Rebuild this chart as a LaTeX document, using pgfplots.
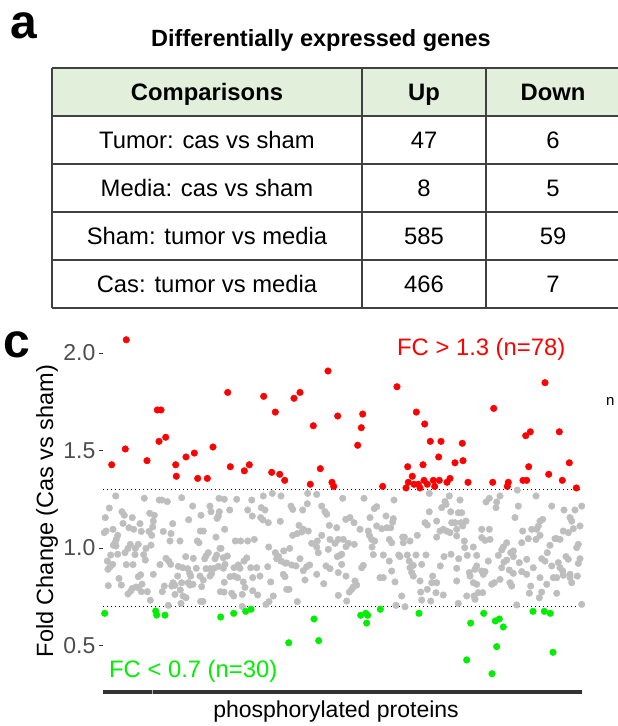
\documentclass[border=0pt]{standalone}
\usepackage{fontspec}
\setmainfont{Liberation Sans}
\usepackage{pgfplots}
\pgfplotsset{compat=1.18}
\definecolor{hdrgreen}{HTML}{E2EFDA}
\definecolor{rulegray}{HTML}{404040}
\definecolor{ptgray}{HTML}{BEBEBE}
\definecolor{fcred}{HTML}{FF0000}
\definecolor{fcgreen}{HTML}{00EE00}
\definecolor{ticktext}{HTML}{4D4D4D}
\definecolor{tickline}{HTML}{333333}

\begin{document}
\begin{tikzpicture}
\path[use as bounding box] (0pt,0pt) rectangle (618pt,-726pt);

% ---- panel a: table ----
\node[anchor=base west, inner sep=0pt, font=\fontsize{48}{50}\selectfont\bfseries] at (10pt,-38pt) {a};
\node[anchor=base, inner sep=0pt, font=\fontsize{23.5}{26}\selectfont\bfseries] at (321pt,-46pt) {Differentially expressed genes};

\fill[hdrgreen] (52pt,-68pt) rectangle (620pt,-116pt);
\begin{scope}[rulegray, line width=1.1pt]
  \draw (52pt,-68pt) -- (620pt,-68pt);
  \foreach \yy in {116,164,212,260,308} \draw (52pt,-\yy pt) -- (620pt,-\yy pt);
  \draw (52pt,-68pt) -- (52pt,-308pt);
  \draw (362pt,-68pt) -- (362pt,-308pt);
  \draw (486pt,-68pt) -- (486pt,-308pt);
\end{scope}
\begin{scope}[every node/.style={anchor=base, inner sep=0pt, font=\fontsize{23.8}{26}\selectfont}]
  \node[font=\fontsize{23.8}{26}\selectfont\bfseries] at (207pt,-100.5pt) {Comparisons};
  \node[font=\fontsize{23.8}{26}\selectfont\bfseries] at (424pt,-100.5pt) {Up};
  \node[font=\fontsize{23.8}{26}\selectfont\bfseries] at (553pt,-100.5pt) {Down};
  \node at (207pt,-148.5pt) {Tumor: cas vs sham};
  \node at (424pt,-148.5pt) {47};
  \node at (553pt,-148.5pt) {6};
  \node at (207pt,-196.5pt) {Media: cas vs sham};
  \node at (424pt,-196.5pt) {8};
  \node at (553pt,-196.5pt) {5};
  \node at (207pt,-244.5pt) {Sham: tumor vs media};
  \node at (424pt,-244.5pt) {585};
  \node at (553pt,-244.5pt) {59};
  \node at (207pt,-292.5pt) {Cas: tumor vs media};
  \node at (424pt,-292.5pt) {466};
  \node at (553pt,-292.5pt) {7};
\end{scope}

% ---- panel c: scatter ----
\node[anchor=base west, inner sep=0pt, font=\fontsize{48}{50}\selectfont\bfseries] at (3pt,-357pt) {c};

\begin{axis}[
  at={(103pt,-692pt)}, anchor=south west,
  scale only axis, width=479pt, height=369pt,
  xmin=103, xmax=582, ymin=0.2615, ymax=2.154,
  clip=false,
  axis lines=left,
  x axis line style={-, line width=4pt, color=tickline},
  y axis line style={draw=none},
  xtick=\empty,
  ytick={0.5,1.0,1.5,2.0},
  tick align=outside,
  major tick length=4.5pt,
  y tick style={color=tickline, line width=0.9pt},
  /pgf/number format/assume math mode=true,
  /pgf/number format/.cd, fixed, fixed zerofill, precision=1,
  /pgfplots/.cd,
  yticklabel style={font=\fontsize{23}{25}\selectfont, color=ticktext, inner sep=1pt, xshift=-2pt},
]
% thresholds
\addplot[black, line width=1.1pt, dash pattern=on 1.1pt off 2.9pt] coordinates {(103,1.3) (582,1.3)};
\addplot[black, line width=1.1pt, dash pattern=on 1.1pt off 2.9pt] coordinates {(103,0.7) (582,0.7)};

% unchanged proteins
\addplot[only marks, mark=*, mark size=3.3pt, color=ptgray] coordinates {
(115.7,1.267) (144.3,1.255) (159.3,1.246) (162,1.246) (167.3,1.238) (181.7,1.258) (219,1.255)
(109.3,1.205) (122,1.186) (124.3,1.168) (132.3,1.156) (149.7,1.178) (154.3,1.168) (192.7,1.215)
(210,1.215) (211,1.186) (219.3,1.186) (217,1.152) (218.3,1.164) (105.3,1.156) (140,1.125)
(153.3,1.138) (188.7,1.145) (201,1.168) (123,1.126) (129,1.104) (133.7,1.096) (141.3,1.085)
(149,1.085) (152.7,1.108) (172.7,1.125) (104.3,1.079) (106,1.087) (113,1.096) (163.3,1.085)
(171,1.074) (151.7,1.065) (200.3,1.087) (203.3,1.087) (216,1.056) (220,0.998) (117.7,1.065)
(116.3,1.044) (115,1.027) (113.3,1.014) (116,1.010) (170,1.036) (180,1.036) (197.3,1.036)
(199,1.027) (130.3,1.019) (138.3,1.019) (146,0.998) (151,1.015) (135.3,0.998) (128,0.998)
(110.7,0.964) (117.7,0.968) (125,0.976) (135,0.966) (143.7,0.966) (208.3,0.976) (206,0.959)
(204.7,0.945) (216.7,0.964) (215,0.945) (185.7,0.956) (193.3,0.947) (166,0.947) (168.7,0.933)
(170.7,0.916) (107.3,0.933) (112.7,0.916) (110,0.903) (108,0.891) (126.3,0.915) (133,0.915)
(145.3,0.938) (160,0.915) (178.3,0.906) (182.7,0.899) (187.7,0.894) (196.3,0.896) (206,0.894)
(210,0.894) (214,0.896) (218.3,0.906) (153.3,0.865) (140.7,0.863) (138.3,0.853) (177.7,0.856)
(189.7,0.870) (190.7,0.856) (200,0.856) (203.3,0.836) (210,0.856) (211.7,0.870) (119,0.844)
(121.3,0.810) (108.3,0.807) (142,0.815) (164.3,0.805) (173,0.822) (175,0.809) (171.7,0.805)
(181.7,0.822) (188.3,0.822) (190,0.810) (193,0.814) (201.7,0.802) (132.3,0.793) (130.7,0.779)
(128,0.764) (136,0.800) (138.3,0.797) (141.3,0.776) (147.3,0.776) (162.3,0.776) (180.3,0.785)
(183,0.754) (186,0.745) (175,0.762) (220.3,0.776) (150.3,0.732) (200.7,0.726) (203,0.726)
(168.3,0.706) (181,0.716)
(236.7,1.250) (251.7,1.246) (263.3,1.267) (272.3,1.280) (281,1.267) (307.7,1.280) (316.7,1.275)
(224.3,1.250) (229.7,1.195) (247.7,1.195) (252.3,1.164) (261.3,1.207) (265,1.195) (260.7,1.156)
(263,1.144) (268.3,1.130) (280.3,1.137) (291,1.215) (292.7,1.198) (302.7,1.195) (307.3,1.227)
(325,1.186) (326.7,1.173) (329.3,1.116) (336.7,1.104) (321.7,1.215) (224.7,1.096) (235.3,1.036)
(240.7,1.036) (247.7,1.036) (254.3,1.044) (292.7,1.065) (297.3,1.074) (301.7,1.082) (303.3,1.096)
(308.3,1.087) (311.7,1.024) (317.3,1.036) (321.7,1.065) (330,1.044) (338.3,1.044) (335,1.024)
(299,1.116) (221,0.998) (268.7,1.005) (289.7,0.998) (275.3,0.976) (283.7,0.985) (278.7,0.956)
(281,0.933) (276.7,0.945) (286.7,0.923) (291.7,0.913) (300,0.945) (316.7,1.005) (318.3,0.976)
(328.3,0.993) (337.3,0.956) (340,0.962) (246.7,0.949) (223.3,0.950) (227.3,0.959) (225,0.916)
(223.3,0.896) (234,0.899) (238.3,0.913) (240,0.896) (244,0.933) (250.7,0.899) (256.7,0.899)
(267.7,0.904) (285,0.923) (296,0.908) (306.7,0.904) (309.7,0.913) (303.3,0.884) (326,0.908)
(330,0.894) (338.3,0.874) (316.7,0.865) (230,0.853) (234,0.856) (224.3,0.824) (237.7,0.848)
(243.3,0.826) (245,0.798) (252.7,0.848) (260,0.856) (270.7,0.826) (283.3,0.865) (285,0.853)
(305,0.836) (323.7,0.817) (289,0.788) (286.7,0.788) (273.3,0.754) (257.7,0.759) (252.7,0.781)
(231.7,0.768) (233.7,0.754) (242.3,0.762) (224,0.774) (297.3,0.725) (266,0.711) (269,0.725)
(338.3,0.757) (242.3,0.700)
(342.7,1.255) (364,1.255) (394,1.246) (429.3,1.280) (445,1.238) (449.3,1.267) (376.7,1.212)
(374.3,1.202) (350,1.156) (345.7,1.147) (354,1.130) (370,1.156) (376.7,1.113) (381.7,1.099)
(386.7,1.104) (390.7,1.104) (392.7,1.133) (393.3,1.150) (386,1.164) (429.3,1.186) (441.7,1.207)
(446,1.224) (450.7,1.186) (458.3,1.181) (455,1.130) (425,1.130) (427.3,1.118) (436.7,1.138)
(451.7,1.130) (368.3,1.087) (360,1.096) (369.3,1.065) (371.7,1.044) (374.7,1.036) (372,1.005)
(343.3,1.044) (348.3,1.024) (354.3,1.019) (346,1.007) (389.3,1.044) (391.7,1.027) (402.7,1.056)
(404.3,1.056) (403.3,1.027) (410,1.036) (417.3,1.065) (440,1.087) (436.7,1.056) (443.3,1.096)
(446.7,1.087) (456.7,1.096) (450,1.079) (456.7,1.062) (341.7,0.968) (373.3,0.966) (383.3,0.964)
(398.7,0.964) (400,0.956) (407.3,0.964) (416,0.964) (426,0.964) (444,0.956) (451,0.968)
(458.7,0.945) (389.3,0.933) (409.3,0.933) (413.3,0.911) (421.7,0.916) (440.3,0.908) (456.7,0.896)
(341.7,0.916) (363.3,0.911) (361.7,0.899) (410,0.899) (411.7,0.874) (413.3,0.856) (391.7,0.882)
(432.7,0.856) (431.7,0.822) (346,0.856) (355,0.831) (356.7,0.810) (353.3,0.800) (351.7,0.788)
(349.3,0.774) (380,0.848) (383.3,0.848) (395,0.826) (420,0.831) (436.7,0.822) (456.7,0.831)
(420.7,0.774) (427.3,0.788) (436,0.771) (443.3,0.759) (458.3,0.716) (346.7,0.728) (401.7,0.754)
(396,0.706) (405,0.699) (421.7,0.733) (430.7,0.728)
(460,1.246) (461.7,1.181) (486,1.236) (489.3,1.255) (500,1.267) (496.7,1.236) (496,1.207)
(518.3,1.215) (536,1.267) (517.3,1.297) (551.7,1.215) (564,1.195) (575,1.195) (581.7,1.215)
(461,1.130) (466,1.138) (462.7,1.113) (515,1.156) (540,1.138) (542.7,1.147) (538.3,1.113)
(570,1.156) (571.7,1.138) (563.3,1.087) (573.3,1.099) (580,1.113) (560,1.044) (556.7,1.048)
(568.3,1.079) (481.7,1.096) (489.3,1.096) (481.7,1.053) (485,1.039) (490,1.044) (464.3,1.036)
(464.7,1.002) (473.3,1.005) (503.3,1.005) (506.7,1.027) (513.3,0.985) (521.7,1.027) (522.7,1.087)
(531.7,1.096) (536.7,1.096) (540,1.065) (536,1.044) (528.3,1.048) (550,1.014) (555,1.048)
(578.3,1.019) (576.7,1.002) (467.3,0.962) (476.7,0.962) (488.3,0.933) (498.3,0.962) (501.7,0.990)
(510.7,0.976) (513.3,0.956) (506.7,0.938) (504,0.928) (519.3,0.925) (526.7,0.942) (541.7,0.945)
(545,0.933) (547.3,0.976) (558.3,0.925) (566,0.956) (568.3,0.942) (578.3,0.921) (580,0.945)
(476.7,0.908) (475,0.891) (469.3,0.874) (470,0.856) (481.7,0.882) (483.3,0.865) (485,0.879)
(501.7,0.899) (509.3,0.887) (513.3,0.870) (521.7,0.879) (526.7,0.865) (533.3,0.899) (551.7,0.908)
(560,0.899) (562.7,0.882) (570,0.848) (577.3,0.856) (473.3,0.822) (476.7,0.814) (491.7,0.814)
(494.3,0.822) (500,0.839) (510,0.822) (511.7,0.805) (530.7,0.805) (540,0.848) (546.7,0.814)
(553.3,0.848) (556.7,0.848) (563.3,0.860) (570,0.865) (571.7,0.822) (478.3,0.771) (482.7,0.771)
(466.7,0.754) (474,0.754) (475,0.737) (529.3,0.768) (539.3,0.745) (556.7,0.768) (541.7,0.774)
(516.7,0.708) (581.7,0.711)
};

% FC > 1.3
\addplot[only marks, mark=*, mark size=3.3pt, color=fcred] coordinates {
(111.7,1.427) (126.3,2.068) (125.3,1.508) (147,1.448) (157.3,1.708) (161,1.708) (159,1.547)
(165.7,1.568) (175.7,1.427) (176.3,1.368) (186,1.467) (194.3,1.487) (197.7,1.357) (207.3,1.357)
(213,1.518) (227.7,1.798) (230.3,1.417) (244.3,1.396) (249.3,1.427) (263.7,1.778) (271.7,1.388)
(275.3,1.697) (279.7,1.378) (284.7,1.347) (294,1.768) (300,1.798) (310.3,1.327) (313.3,1.627)
(320.3,1.407) (328,1.908) (332,1.337) (333.7,1.316) (337.7,1.677) (357.7,1.527) (361.3,1.617)
(362.7,1.687) (382.7,1.316) (397,1.827) (406,1.308) (407.7,1.417) (408.3,1.337) (412.3,1.368)
(414,1.327) (416.3,1.697) (418.3,1.327) (420,1.308) (423,1.427) (424,1.347) (424.7,1.636)
(427.3,1.327) (430.3,1.547) (433.3,1.347) (434.7,1.316) (438.7,1.467) (439.3,1.347) (441,1.547)
(447,1.337) (450,1.357) (455,1.437) (462.3,1.537) (463,1.448) (468,1.337) (492.7,1.337)
(493.7,1.716) (507.3,1.316) (508.3,1.337) (523,1.347) (526.7,1.347) (525.7,1.576) (528.7,1.417)
(530.3,1.596) (545,1.848) (548.7,1.378) (559.3,1.596) (562.3,1.347) (569.3,1.437) (576.3,1.308)
};

% FC < 0.7
\addplot[only marks, mark=*, mark size=3.3pt, color=fcgreen] coordinates {
(104.7,0.665) (155.7,0.677) (156.7,0.656) (165,0.656) (220.7,0.646) (233.7,0.665) (245.7,0.675)
(251,0.686) (288.7,0.514) (314,0.636) (318.7,0.525) (360.7,0.655) (365.7,0.665) (367.7,0.655)
(366.7,0.615) (380.3,0.686) (419,0.665) (466.7,0.426) (470.7,0.615) (483.7,0.665) (492,0.355)
(495.3,0.626) (499.3,0.636) (496.7,0.494) (503.3,0.595) (533,0.675) (544.3,0.675) (550.3,0.665)
(553,0.465)
};
\end{axis}
\draw[gray!60, line width=1pt] (152pt,-690pt) -- (152pt,-694pt);

\node[anchor=base west, inner sep=0pt, text=fcred, font=\fontsize{23.8}{26}\selectfont] at (397pt,-355pt) {FC > 1.3 (n=78)};
\node[anchor=base west, inner sep=0pt, text=fcgreen, font=\fontsize{23.8}{26}\selectfont] at (109pt,-677pt) {FC < 0.7 (n=30)};
\node[anchor=base west, inner sep=0pt, font=\fontsize{15}{17}\selectfont] at (606pt,-405pt) {n};
\node[anchor=base, inner sep=0pt, rotate=90, font=\fontsize{23.5}{26}\selectfont] at (53pt,-511pt) {Fold Change (Cas vs sham)};
\node[anchor=base, inner sep=0pt, font=\fontsize{23}{26}\selectfont] at (336pt,-717pt) {phosphorylated proteins};
\end{tikzpicture}
\end{document}
